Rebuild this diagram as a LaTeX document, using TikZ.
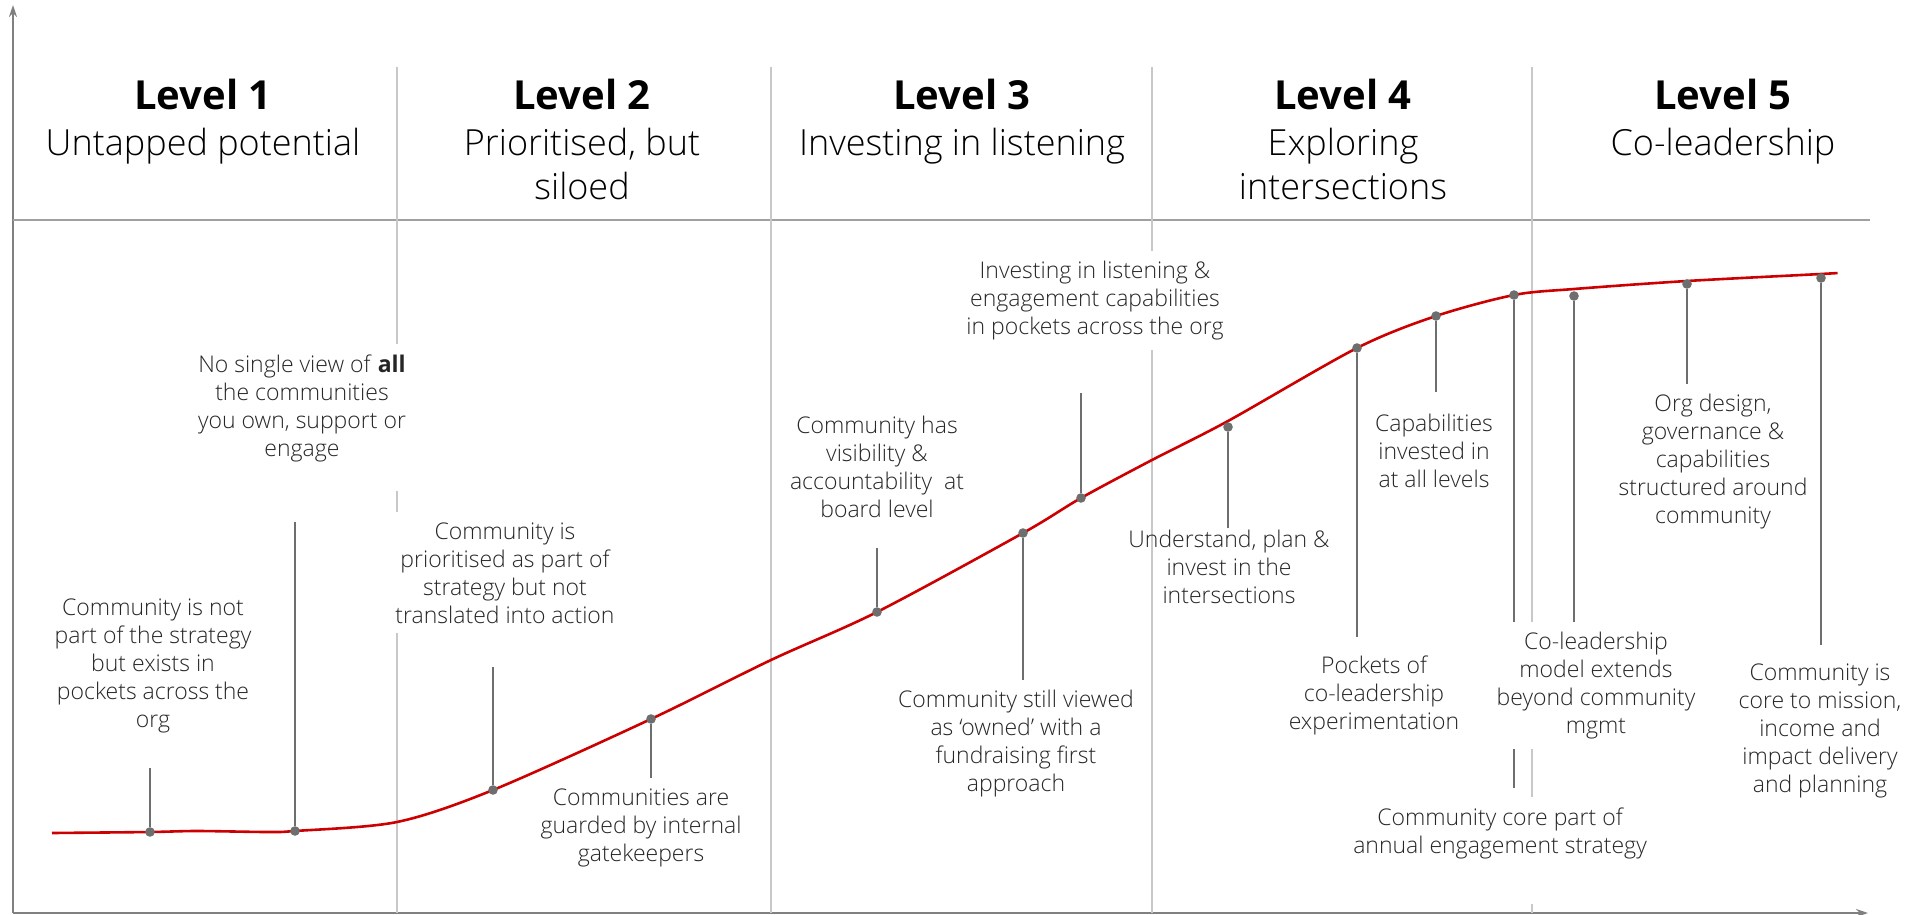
\documentclass[tikz,border=0pt]{standalone}
\usepackage{fontspec}
\setmainfont{Open Sans}[UprightFont={* Light},BoldFont={* Bold}]
\usetikzlibrary{arrows.meta,positioning}

\definecolor{axisgray}{RGB}{128,128,128}
\definecolor{rulegray}{RGB}{160,160,160}
\definecolor{splitgray}{RGB}{200,200,200}
\definecolor{leadgray}{RGB}{110,110,110}
\definecolor{curvered}{RGB}{204,0,0}
\definecolor{notegray}{RGB}{38,38,38}

\tikzset{
  arrowaxis/.style={axisgray,line width=1pt,-{Stealth[length=6pt,width=4pt]}},
  divider/.style={splitgray,line width=1pt},
  leader/.style={leadgray,line width=1pt},
  pindot/.style={circle,fill=leadgray,inner sep=0pt,minimum size=4.8pt},
  note/.style={align=center,fill=white,inner xsep=3pt,inner ysep=5pt,anchor=north,
    text=notegray,font=\fontsize{11.5}{14}\selectfont},
  lvl/.style={font=\fontsize{20}{24}\bfseries,inner sep=0pt},
  sub/.style={font=\fontsize{18}{22}\selectfont,align=center,inner sep=0pt},
}

\begin{document}
\begin{tikzpicture}[x=0.5pt,y=-0.5pt]
  \useasboundingbox (0,0) rectangle (1922,915);
  % axes, header rule and level dividers
  \draw[arrowaxis] (13,913) -- (13,5);
  \draw[arrowaxis] (13,913) -- (1868,913);
  \draw[rulegray,line width=1.2pt] (13,220) -- (1870,220);
  \foreach \x in {397,771,1152,1532} {
    \draw[divider] (\x,67) -- (\x,913);
  }

  \foreach \i/\cx/\txt in {1/203/Untapped potential,2/582/{Prioritised, but\\siloed},
      3/962/Investing in listening,4/1343/{Exploring\\intersections},5/1723/Co-leadership} {
    \node[lvl] (lvl\i) at (\cx,95) {Level \i};
    \node[sub,below=8.5pt of lvl\i] (sub\i) {\txt};
  }

  % maturity curve
  \draw[curvered,line width=1.3pt] plot[smooth,tension=0.5] coordinates {
    (52,833) (150,832) (197,831) (267,832) (295,831) (397,822) (493,790)
    (651,719) (771,660) (877,612) (1023,533) (1081,498) (1152,460) (1228,421)
    (1357,348) (1436,316) (1514,295) (1574,289) (1687,281) (1821,274) (1837,273)};

  \foreach \n/\px/\py/\ey in {1/150/832/768,2/295/831/522,3/493/790/667,4/651/719/787,
      5/877/612/548,6/1023/533/680,7/1081/498/393,8/1228/427/528,9/1357/348/637,
      10/1436/316/392,11/1514/295/788,12/1574/296/623,13/1687/284/384,14/1821/278/645} {
    \node[pindot] (dot\n) at (\px,\py) {};
    \coordinate (end\n) at (\px,\ey);
    \draw[leader] (dot\n) -- (end\n);
  }

  \node[note] (note1) at (153,588) {Community is not\\part of the strategy\\but exists in\\pockets across the\\org};
  \node[note,text depth=12.5pt] (note2) at (302,344) {No single view of \textbf{all}\\the communities\\you own, support or\\engage};
  \node[note] (note3) at (505,512) {Community is\\prioritised as part of\\strategy but not\\translated into action};
  \node[note] (note4) at (641,778) {Communities are\\guarded by internal\\gatekeepers};
  \node[note] (note5) at (877,406) {Community has\\visibility \&\\accountability~ at\\board level};
  \node[note] (note6) at (1016,680) {Community still viewed\\as ‘owned’ with a\\fundraising first\\approach};
  \node[note] (note7) at (1095,251) {Investing in listening \&\\engagement capabilities\\in pockets across the org};
  \node[note,fill=none] (note8) at (1229,520) {Understand, plan \&\\invest in the\\intersections};
  \node[note] (note9) at (1374,645) {Pockets of\\co-leadership\\experimentation};
  \node[note] (note10) at (1434,404) {Capabilities\\invested in\\at all levels};
  \node[note,text depth=20.5pt] (note11) at (1500,797) {Community core part of\\annual engagement strategy};
  \node[note] (note12) at (1596,622) {Co-leadership\\model extends\\beyond community\\mgmt};
  \node[note] (note13) at (1713,384) {Org design,\\governance \&\\capabilities\\structured around\\community};
  \node[note] (note14) at (1820,653) {Community is\\core to mission,\\income and\\impact delivery\\and planning};
\end{tikzpicture}
\end{document}
